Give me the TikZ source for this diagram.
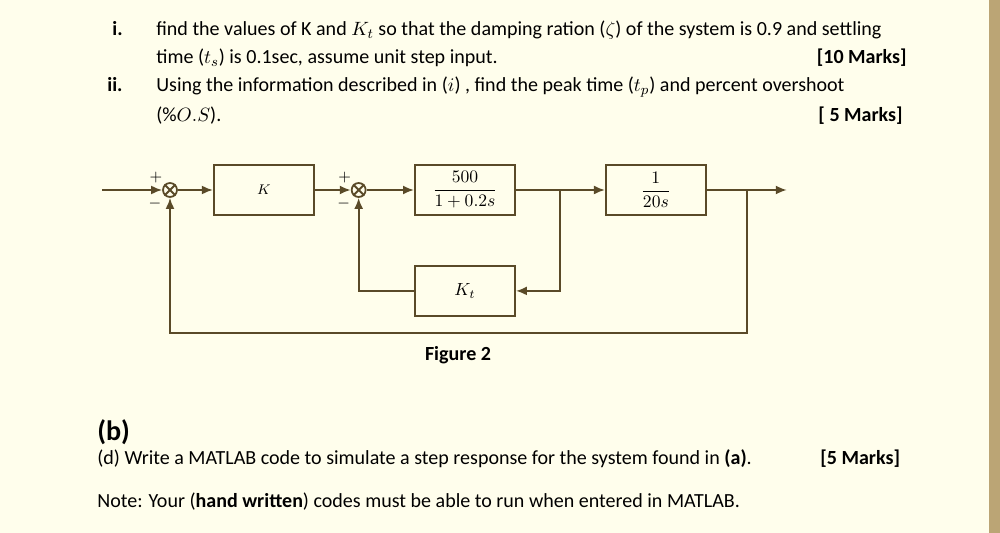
\documentclass[tikz,border=0pt]{standalone}
\usepackage{fontspec}
\setmainfont{Carlito}
\usepackage{amsmath}
\usetikzlibrary{arrows.meta,positioning,calc}
\definecolor{paper}{HTML}{FFFEEC}
\definecolor{rim}{HTML}{BBA575}
\definecolor{wirecol}{HTML}{5A4A28}

\begin{document}
\begin{tikzpicture}[x=0.02cm,y=-0.02cm,
  block/.style={draw=wirecol, line width=1.1pt, minimum width=2cm, minimum height=1cm, inner sep=0pt},
  sumnode/.style={draw=wirecol, line width=1pt, circle, minimum size=0.28cm, inner sep=0pt},
  sig/.style={draw=wirecol, line width=1.1pt, -{Latex[length=2.2mm,width=1.8mm]}},
  ln/.style={draw=wirecol, line width=1.1pt},
  sgn/.style={inner sep=0pt, font=\small},
  txt/.style={anchor=base west, inner sep=0pt, font=\fontsize{11.4}{13}\selectfont}]
	% page
	\fill[paper] (0,0) rectangle (1000,533);
	\fill[rim] (989,0) rectangle (1000,533);
	\useasboundingbox (0,0) rectangle (1000,533);

	% questions
	\node[txt] (n1) at (112,36) {\textbf{i.}};
	\node[txt] (q1a) at (156,36) {find the values of K and $K_t$ so that the damping ration ($\zeta$) of the system is 0.9 and settling};
	\node[txt] (q1b) at (156,64) {time ($t_s$) is 0.1sec, assume unit step input.};
	\node[txt, anchor=base east] (mk1) at (907,64) {\textbf{[10 Marks]}};
	\node[txt] (n2) at (107,92) {\textbf{ii.}};
	\node[txt] (q2a) at (156,92) {Using the information described in ($i$) , find the peak time ($t_p$) and percent overshoot};
	\node[txt] (q2b) at (156,122) {($\%O.S$).};
	\node[txt, anchor=base east] (mk2) at (903,122) {\textbf{[ 5 Marks]}};

	% block diagram
	\node[sumnode] (s1) at (170,190) {};
	\node[block, right=0.7cm of s1] (K) {\footnotesize $K$};
	\node[sumnode, right=0.72cm of K] (s2) {};
	\node[block, right=0.95cm of s2] (G1) {$\dfrac{500}{1+0.2s}$};
	\node[block, right=1.78cm of G1] (G2) {$\dfrac{1}{20s}$};
	\node[block, below=0.98cm of G1] (Kt) {$K_t$};

	\coordinate[left=1.2cm of s1] (in);
	\coordinate (b1) at ($(G1.east)!0.5!(G2.west)$);
	\coordinate[right=0.8cm of G2] (b2);
	\coordinate[right=1.6cm of G2] (out);
	\coordinate (fb) at ($(Kt.south)+(0,-0.32cm)$);

	\draw[ln] (s1.north west) -- (s1.south east) (s1.north east) -- (s1.south west);
	\draw[ln] (s2.north west) -- (s2.south east) (s2.north east) -- (s2.south west);
	\node[sgn] (s1p) at ($(s1)+(-0.28cm,0.24cm)$) {$+$};
	\node[sgn] (s1m) at ($(s1)+(-0.3cm,-0.28cm)$) {$-$};
	\node[sgn] (s2p) at ($(s2)+(-0.28cm,0.24cm)$) {$+$};
	\node[sgn] (s2m) at ($(s2)+(-0.3cm,-0.28cm)$) {$-$};

	\draw[sig] (in) -- (s1);
	\draw[sig] (s1) -- (K);
	\draw[sig] (K) -- (s2);
	\draw[sig] (s2) -- (G1);
	\draw[sig] (G1) -- (G2);
	\draw[sig] (G2) -- (out);
	\draw[sig] (b1) |- (Kt);
	\draw[sig] (Kt) -| (s2);
	\draw[sig] (b2) |- (fb) -| (s1);

	\node[txt, anchor=base, font=\fontsize{11.4}{13}\selectfont\bfseries] (cap) at (458,360) {Figure 2};

	% part b
	\node[txt, font=\fontsize{16}{19}\selectfont\bfseries] (partb) at (97,440) {(b)};
	\node[txt] (qd) at (97,464) {(d) Write a MATLAB code to simulate a step response for the system found in \textbf{(a)}.};
	\node[txt] (mk3) at (820,464) {\textbf{[5 Marks]}};
	\node[txt] (note) at (97,507) {Note: Your (\textbf{hand written}) codes must be able to run when entered in MATLAB.};
\end{tikzpicture}
\end{document}
